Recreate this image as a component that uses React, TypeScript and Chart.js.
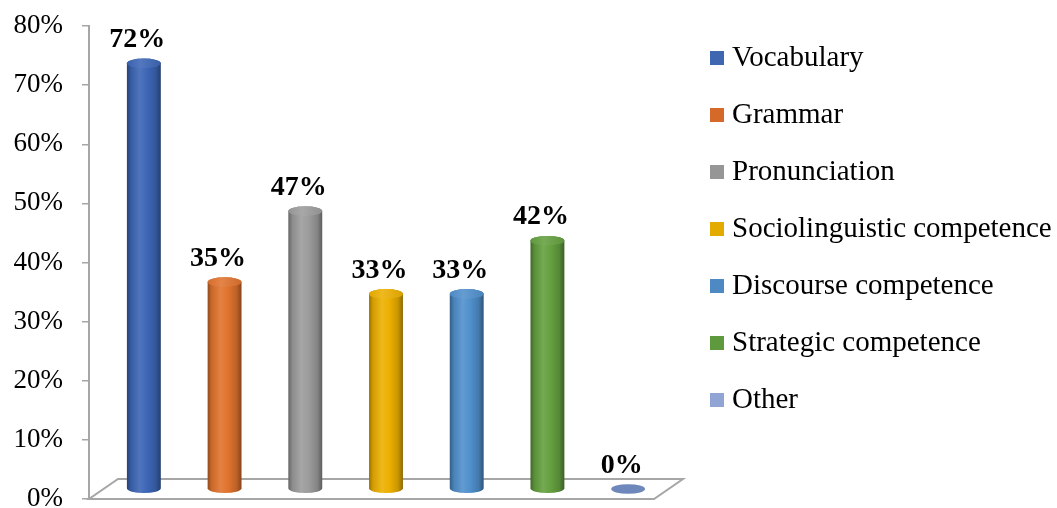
import React, { useEffect, useRef } from 'react';
import { Chart, registerables } from 'chart.js';

Chart.register(...registerables);

const categories = [
  'Vocabulary',
  'Grammar',
  'Pronunciation',
  'Sociolinguistic competence',
  'Discourse competence',
  'Strategic competence',
  'Other',
];
const values = [72, 35, 47, 33, 33, 42, 0];
const yMin = 0;
const yMax = 80;
const yStep = 10;

const legendColors = ['#3F67B1', '#D4692A', '#969696', '#E3AA00', '#4E89C3', '#5F993D', '#91A5D5'];
const barColors = ['#3C66B6', '#E0732E', '#9C9C9C', '#EDB000', '#5090CC', '#64A03F', '#6F88BC'];

const FONT = '"Liberation Serif", "Times New Roman", Times, serif';
const AXIS_GRAY = '#A6A6A6';
const DEPTH_X = 29;
const DEPTH_Y = 20;

function shade(hex: string, amt: number): string {
  const n = parseInt(hex.slice(1), 16);
  let r = (n >> 16) & 255;
  let g = (n >> 8) & 255;
  let b = n & 255;
  const t = amt < 0 ? 0 : 255;
  const p = Math.abs(amt);
  r = Math.round(r + (t - r) * p);
  g = Math.round(g + (t - g) * p);
  b = Math.round(b + (t - b) * p);
  return `rgb(${r},${g},${b})`;
}

function drawCylinder(
  ctx: CanvasRenderingContext2D,
  cx: number,
  topY: number,
  botY: number,
  rx: number,
  ry: number,
  color: string
) {
  if (botY - topY > 0.5) {
    const g = ctx.createLinearGradient(cx - rx, 0, cx + rx, 0);
    g.addColorStop(0, shade(color, -0.35));
    g.addColorStop(0.12, shade(color, -0.1));
    g.addColorStop(0.38, shade(color, 0.1));
    g.addColorStop(0.6, color);
    g.addColorStop(0.85, shade(color, -0.15));
    g.addColorStop(1, shade(color, -0.4));
    ctx.beginPath();
    ctx.moveTo(cx - rx, topY);
    ctx.lineTo(cx - rx, botY);
    ctx.ellipse(cx, botY, rx, ry, 0, Math.PI, 0, true);
    ctx.lineTo(cx + rx, topY);
    ctx.ellipse(cx, topY, rx, ry, 0, 0, Math.PI, true);
    ctx.closePath();
    ctx.fillStyle = g;
    ctx.fill();
    const tg = ctx.createLinearGradient(cx - rx, 0, cx + rx, 0);
    tg.addColorStop(0, shade(color, -0.05));
    tg.addColorStop(0.4, shade(color, 0.12));
    tg.addColorStop(1, shade(color, -0.08));
    ctx.beginPath();
    ctx.ellipse(cx, topY, rx, ry, 0, 0, Math.PI * 2);
    ctx.fillStyle = tg;
    ctx.fill();
  } else {
    ctx.beginPath();
    ctx.ellipse(cx, botY, rx, ry, 0, 0, Math.PI * 2);
    ctx.fillStyle = color;
    ctx.fill();
  }
}

const cylinderPlugin = {
  id: 'cylinder3d',
  beforeDatasetsDraw(chart: any) {
    const { ctx, chartArea } = chart;
    const { left, right, bottom } = chartArea;
    ctx.save();
    ctx.beginPath();
    ctx.moveTo(left, bottom);
    ctx.lineTo(right, bottom);
    ctx.lineTo(right + DEPTH_X, bottom - DEPTH_Y);
    ctx.lineTo(left + DEPTH_X, bottom - DEPTH_Y);
    ctx.closePath();
    ctx.fillStyle = '#ffffff';
    ctx.fill();
    ctx.strokeStyle = AXIS_GRAY;
    ctx.lineWidth = 2;
    ctx.lineJoin = 'miter';
    ctx.stroke();
    ctx.restore();
  },
  beforeDatasetDraw(chart: any, args: any) {
    const { ctx } = chart;
    const meta = args.meta;
    const ds = chart.data.datasets[args.index];
    ctx.save();
    meta.data.forEach((el: any, i: number) => {
      const props = el.getProps(['x', 'y', 'base', 'width'], true);
      const cx = props.x + DEPTH_X / 2;
      const topY = props.y - DEPTH_Y / 2;
      const botY = props.base - DEPTH_Y / 2;
      const rx = props.width / 2;
      const ry = 4.8;
      const col = Array.isArray(ds.backgroundColor) ? ds.backgroundColor[i] : ds.backgroundColor;
      drawCylinder(ctx, cx, topY, botY, rx, ry, col);
    });
    meta.data.forEach((el: any, i: number) => {
      const props = el.getProps(['x', 'y'], true);
      ctx.font = `bold 28px ${FONT}`;
      ctx.fillStyle = '#000000';
      ctx.textAlign = 'center';
      ctx.textBaseline = 'middle';
      ctx.fillText(`${ds.data[i]}%`, props.x + 8, props.y - 33.5);
    });
    ctx.restore();
    return false;
  },
};

export default function App() {
  const canvasRef = useRef<HTMLCanvasElement | null>(null);

  useEffect(() => {
    const canvas = canvasRef.current;
    if (!canvas) return;
    const chart = new Chart(canvas, {
      type: 'bar',
      data: {
        labels: categories,
        datasets: [
          {
            label: 'Share',
            data: values,
            backgroundColor: barColors,
            categoryPercentage: 1,
            barPercentage: 0.42,
          },
        ],
      },
      options: {
        responsive: false,
        animation: false,
        events: [],
        layout: { padding: 0 },
        scales: {
          x: {
            display: false,
            offset: true,
          },
          y: {
            min: yMin,
            max: yMax,
            ticks: {
              stepSize: yStep,
              callback: (v: any) => `${v}%`,
              color: '#000000',
              padding: 19,
              font: { family: FONT, size: 27, lineHeight: 1 },
            },
            grid: {
              display: true,
              drawOnChartArea: false,
              drawTicks: true,
              tickLength: 7,
              color: AXIS_GRAY,
              lineWidth: 1.5,
            },
            border: { display: true, color: AXIS_GRAY, width: 2 },
            afterFit(scale: any) {
              scale.width = 89;
              scale.paddingTop = 26;
              scale.paddingBottom = 9;
            },
          },
          yDepth: {
            position: 'right',
            display: true,
            min: yMin,
            max: yMax,
            ticks: { display: false },
            grid: { display: false, drawTicks: false },
            border: { display: false },
            afterFit(scale: any) {
              scale.width = 34.5;
              scale.paddingTop = 0;
              scale.paddingBottom = 0;
            },
          },
        },
        plugins: {
          tooltip: { enabled: false },
          title: { display: false },
          legend: {
            position: 'right',
            align: 'start',
            maxWidth: 368.5,
            title: {
              display: true,
              text: '',
              padding: { top: 14.5, bottom: 0 },
              font: { size: 1, lineHeight: 1 },
            },
            labels: {
              usePointStyle: true,
              boxWidth: 1,
              boxHeight: 14,
              padding: 28,
              color: '#000000',
              textAlign: 'left',
              font: { family: FONT, size: 29, lineHeight: 1 },
              generateLabels: () =>
                categories.map((c, i) => ({
                  text: c,
                  fillStyle: legendColors[i],
                  strokeStyle: legendColors[i],
                  lineWidth: 0,
                  pointStyle: 'rect',
                  hidden: false,
                  index: i,
                  datasetIndex: 0,
                  fontColor: '#000000',
                  textAlign: 'left',
                })),
            },
          },
        },
      } as any,
      plugins: [cylinderPlugin],
    });
    return () => chart.destroy();
  }, []);

  return (
    <div style={{ position: 'absolute', left: 0, top: 0, width: 1057, height: 508, background: '#ffffff' }}>
      <canvas ref={canvasRef} width={1057} height={508} style={{ display: 'block' }} />
    </div>
  );
}
